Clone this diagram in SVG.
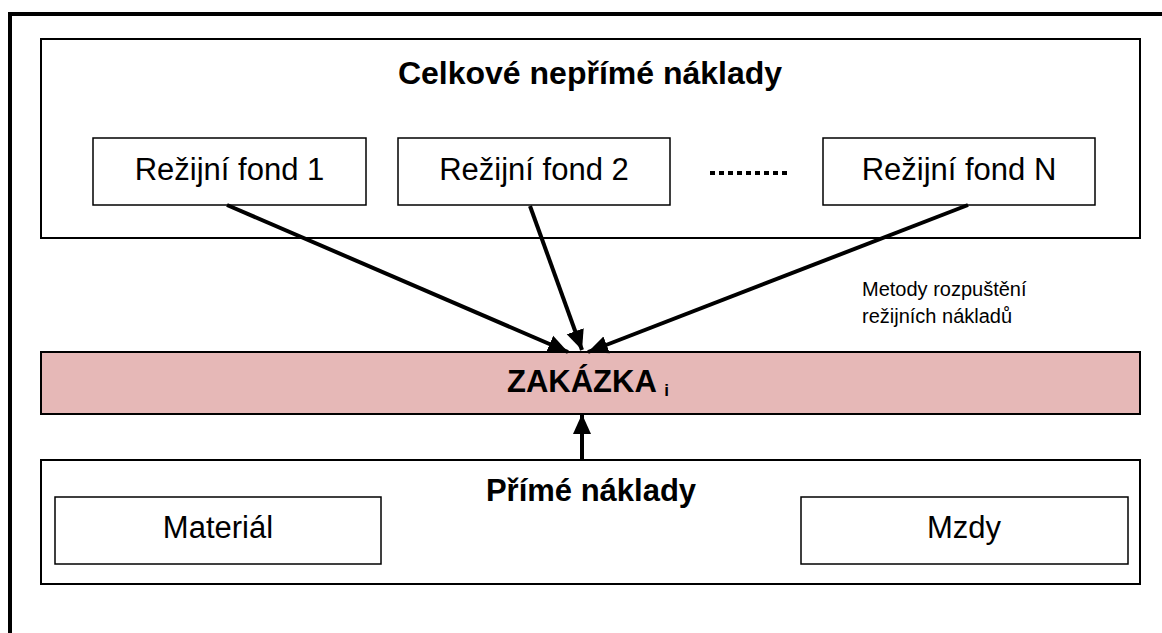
<svg xmlns="http://www.w3.org/2000/svg" width="1162" height="633" viewBox="0 0 1162 633">
<style>
text{font-family:"Liberation Sans",Arial,sans-serif;fill:#000}
.big{font-size:31px}
.bold{font-weight:bold}
.box{fill:#fff;stroke:#000;stroke-width:2}
.inner{fill:#fff;stroke:#000;stroke-width:1.5}
.conn{stroke:#000;stroke-width:4;fill:none}
</style>
<defs>
<marker id="ah" markerUnits="userSpaceOnUse" markerWidth="20" markerHeight="20" viewBox="0 0 20 20" refX="20" refY="10" orient="auto">
<path d="M0,1 L20,10 L0,19 z" fill="#000"/>
</marker>
</defs>
<rect id="frame" x="10" y="14" width="1200" height="700" fill="#fff" stroke="#000" stroke-width="4"/>
<g id="celkove">
<rect class="box" x="41" y="39" width="1099" height="199"/>
<text class="bold" font-size="32" x="590" y="84" text-anchor="middle">Celkové nepřímé náklady</text>
</g>
<g id="fond1">
<rect class="inner" x="93" y="138" width="273" height="67"/>
<text class="big" x="229.500" y="180" text-anchor="middle">Režijní fond 1</text>
</g>
<g id="fond2">
<rect class="inner" x="398" y="138" width="272" height="67"/>
<text class="big" x="534" y="180" text-anchor="middle">Režijní fond 2</text>
</g>
<g id="dots">
<line x1="710" y1="173" x2="790" y2="173" stroke="#000" stroke-width="4" stroke-dasharray="5 4"/>
</g>
<g id="fondN">
<rect class="inner" x="823" y="138" width="272" height="67"/>
<text class="big" x="959" y="180" text-anchor="middle">Režijní fond N</text>
</g>
<g id="metody">
<text x="862" y="296" font-size="20">Metody rozpuštění</text>
<text x="862" y="323" font-size="20">režijních nákladů</text>
</g>
<g id="zakazka">
<rect x="41" y="352" width="1099" height="62" fill="#E6B8B7" stroke="#000" stroke-width="2"/>
<text class="big bold" x="507" y="392">ZAKÁZKA <tspan font-size="17" dy="4">i</tspan></text>
</g>
<g id="prime">
<rect class="box" x="41" y="460" width="1099" height="124"/>
<text class="big bold" x="591" y="501" text-anchor="middle">Přímé náklady</text>
</g>
<g id="material">
<rect class="inner" x="55" y="497" width="326" height="67"/>
<text class="big" x="218" y="538" text-anchor="middle">Materiál</text>
</g>
<g id="mzdy">
<rect class="inner" x="801" y="497" width="327" height="67"/>
<text class="big" x="964" y="538" text-anchor="middle">Mzdy</text>
</g>
<g id="connectors">
<line class="conn" x1="227" y1="205" x2="568" y2="352" marker-end="url(#ah)"/>
<line class="conn" x1="530" y1="206" x2="582" y2="350" marker-end="url(#ah)"/>
<line class="conn" x1="968" y1="205" x2="588" y2="352" marker-end="url(#ah)"/>
<line class="conn" x1="582" y1="460" x2="582" y2="414" marker-end="url(#ah)"/>
</g>
</svg>
